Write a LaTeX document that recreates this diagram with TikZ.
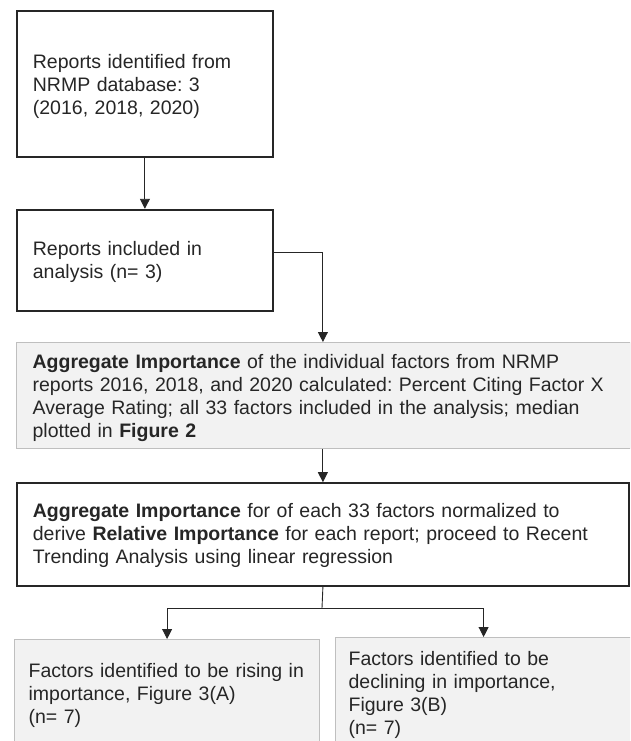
\documentclass[tikz,border=0pt]{standalone}
\usepackage{fontspec}
\setmainfont{Liberation Sans}
\usepackage{xcolor}
\usepackage{tikz}
\usetikzlibrary{arrows.meta, positioning}
\frenchspacing

\definecolor{boxgray}{HTML}{F2F2F2}
\definecolor{edgegray}{HTML}{BFBFBF}
\definecolor{ink}{HTML}{262626}

\begin{document}
\begin{tikzpicture}[x=1pt, y=-1pt, >={Triangle[length=10pt, width=10pt]},
    font=\fontsize{19.5}{23}\selectfont, text=ink,
    whitebox/.style={draw=ink, line width=1.8pt, fill=white, anchor=north west, align=left, inner xsep=16pt, inner ysep=0pt},
    graybox/.style={draw=edgegray, line width=1.2pt, fill=boxgray, anchor=north west, align=left, inner xsep=16pt, inner ysep=0pt},
    link/.style={draw=ink, line width=0.9pt}]
        \useasboundingbox (0,0) rectangle (630,741);
        \clip (0,0) rectangle (630,741);

        % Nodes
        \node (ident) [whitebox, text width=224pt, text height=58pt, text depth=88pt] at (16,10)
            {Reports identified from\\ NRMP database: 3\\ (2016, 2018, 2020)};
        \node (incl) [whitebox, below=51pt of ident, text width=224pt, text height=46pt, text depth=55pt, anchor=north]
            {Reports included in\\ analysis (n= 3)};

        \node (agg) [graybox, text width=582pt, text height=26pt, text depth=80pt] at (16,342)
            {\textbf{Aggregate Importance} of the individual factors from NRMP\\
             reports 2016, 2018, and 2020 calculated: Percent Citing Factor X\\
             Average Rating; all 33 factors included in the analysis; median\\
             plotted in \textbf{Figure 2}};
        \node (rel) [whitebox, below=33pt of agg.south west, anchor=north west, text width=580pt, text height=34pt, text depth=69pt]
            {\textbf{Aggregate Importance} for of each 33 factors normalized to\\
             derive \textbf{Relative Importance} for each report; proceed to Recent\\
             Trending Analysis using linear regression};

        % Outcome boxes
        \node (rising) [graybox, inner xsep=14pt, text width=277pt, text height=38pt, text depth=74pt] at (14,639)
            {Factors identified to be rising in\\ importance, Figure 3(A)\\ (n= 7)};
        \node (declining) [graybox, inner xsep=13pt, text width=270pt, text height=28pt, text depth=88pt] at (335,637)
            {Factors identified to be\\ declining in importance,\\ Figure 3(B)\\ (n= 7)};

        \coordinate (split) at (322,608);

        % Arrows
        \draw[->, link] (ident) -- (incl);
        \draw[->, link] ([yshift=8pt]incl.east) -| (rel.north |- agg.north);
        \draw[->, link] (rel.north |- agg.south) -- (rel.north);
        \draw[link] (rel.south) -- (split);
        \draw[->, link] (split) -| (rising.north);
        \draw[->, link] (split) -| (declining.north);

\end{tikzpicture}
\end{document}
